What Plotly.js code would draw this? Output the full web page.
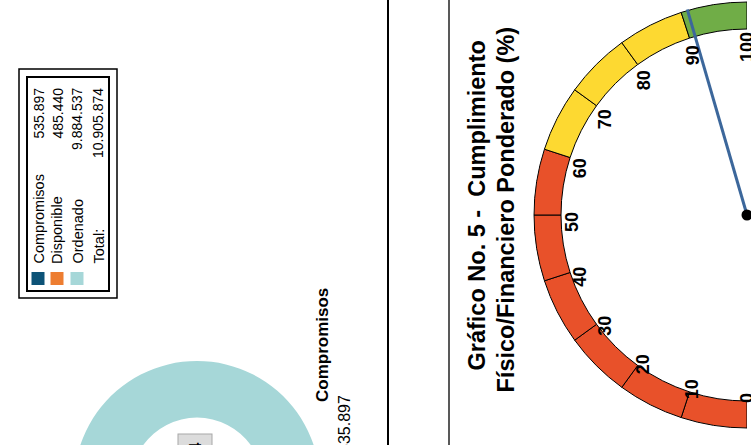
<!DOCTYPE html>
<html>
<head>
<meta charset="utf-8">
<script src="https://cdn.plot.ly/plotly-3.0.1.min.js"></script>
<style>
html,body{margin:0;padding:0;overflow:hidden;background:#fff;width:751px;height:445px;}
#chart{width:751px;height:640px;}
</style>
</head>
<body>
<div id="chart"></div>
<script>
// ---------- DATA ----------
// Donut (budget execution)
const categories = ['Compromisos', 'Disponible', 'Ordenado'];
const amounts = [535897, 485440, 9884537];
const sliceColors = ['#0D5377', '#ED7D31', '#A6D7D8'];
const totalLabel = 'Total:';

// Gauge (Gráfico No. 5)
const gaugeTitle = ['Gráfico No. 5 -\u00a0 Cumplimiento', 'Físico/Financiero Ponderado (%)'];
const bandStarts = [0, 10, 20, 30, 40, 50, 60, 70, 80, 90];
const bandColors = ['#E8512A', '#E8512A', '#E8512A', '#E8512A', '#E8512A', '#E8512A',
                    '#FDD931', '#FDD931', '#FDD931', '#70AD47'];
const gaugeTicks = [0, 10, 20, 30, 40, 50, 60, 70, 80, 90, 100];
const needleValue = 91;

// ---------- LAYOUT HELPERS ----------
const W = 751, H = 640;
const px = x => x / W;
const py = y => 1 - y / H;
const fmt = n => String(n).replace(/\B(?=(\d{3})+(?!\d))/g, '.');
const FONT = 'Liberation Sans, Arial, sans-serif';

// gauge geometry (pixels)
const gC = {x: 747, y: 215};
const rMax = 214, rIn = 186, rOut = 213;
const DEG_PER_UNIT = 180 / 100;

const traces = [];

// donut
const dC = {x: 197, y: 484}, dR = 123;
const small = amounts[0] + amounts[1];
const total = amounts.reduce((a, b) => a + b, 0);
traces.push({
  type: 'pie',
  labels: categories,
  values: amounts,
  sort: false,
  direction: 'clockwise',
  rotation: 180 - (small / total) * 180,
  hole: 0.54,
  marker: {colors: sliceColors, line: {width: 0}},
  textinfo: 'none',
  hoverinfo: 'none',
  domain: {x: [px(dC.x - dR), px(dC.x + dR)], y: [py(dC.y + dR), py(dC.y - dR)]},
  showlegend: false
});

// gauge bands
traces.push({
  type: 'barpolar',
  subplot: 'polar',
  theta: bandStarts.map(v => (v + 5) * DEG_PER_UNIT),
  r: bandStarts.map(() => rOut - rIn),
  base: bandStarts.map(() => rIn),
  width: bandStarts.map(() => 10 * DEG_PER_UNIT),
  marker: {color: bandColors, line: {color: '#000', width: 1}},
  hoverinfo: 'none',
  showlegend: false
});
// needle
traces.push({
  type: 'scatterpolar',
  subplot: 'polar',
  mode: 'lines',
  r: [0, 219],
  theta: [needleValue * DEG_PER_UNIT, needleValue * DEG_PER_UNIT],
  line: {color: '#3C679B', width: 3},
  cliponaxis: false,
  hoverinfo: 'none',
  showlegend: false
});
// hub
traces.push({
  type: 'scatterpolar',
  subplot: 'polar',
  mode: 'markers',
  r: [0],
  theta: [0],
  marker: {color: '#000', size: 11},
  cliponaxis: false,
  hoverinfo: 'none',
  showlegend: false
});

const annotations = [];
const shapes = [];

// gauge tick labels
gaugeTicks.forEach(v => {
  const a = v * DEG_PER_UNIT * Math.PI / 180;
  const x = gC.x - 175.5 * Math.sin(a);
  const y = gC.y + 175.5 * Math.cos(a) + 7.5;
  annotations.push({
    xref: 'paper', yref: 'paper', x: px(x), y: py(y),
    xanchor: 'center', yanchor: 'middle', showarrow: false,
    text: String(v), textangle: -90,
    font: {family: FONT, size: 18, color: '#000', weight: 'bold'}
  });
});

// gauge title (two lines)
const titleX = [477, 505.5], titleY = [205.5, 210];
gaugeTitle.forEach((t, i) => {
  annotations.push({
    xref: 'paper', yref: 'paper', x: px(titleX[i]), y: py(titleY[i]),
    xanchor: 'center', yanchor: 'middle', showarrow: false,
    text: t, textangle: -90,
    font: {family: FONT, size: 23.5, color: '#000', weight: 'bold'}
  });
});

// separator lines
shapes.push({type: 'line', xref: 'paper', yref: 'paper', x0: px(388), x1: px(388), y0: 0, y1: 1,
             line: {color: '#000', width: 2}});
shapes.push({type: 'line', xref: 'paper', yref: 'paper', x0: px(449), x1: px(449), y0: 0, y1: 1,
             line: {color: '#222', width: 1.5}});

// legend table (double border)
shapes.push({type: 'rect', xref: 'paper', yref: 'paper', x0: px(19), x1: px(117), y0: py(298), y1: py(69),
             line: {color: '#000', width: 1.5}, fillcolor: 'rgba(0,0,0,0)'});
shapes.push({type: 'rect', xref: 'paper', yref: 'paper', x0: px(27), x1: px(109), y0: py(291), y1: py(77),
             line: {color: '#000', width: 2}, fillcolor: 'rgba(0,0,0,0)'});

const rowX = [38, 57, 77, 98];
const rowLabels = categories.concat([totalLabel]);
const rowValues = amounts.concat([total]);
rowLabels.forEach((lab, i) => {
  annotations.push({
    xref: 'paper', yref: 'paper', x: px(rowX[i]), y: py(266),
    xanchor: 'center', yanchor: 'bottom', showarrow: false,
    text: lab, textangle: -90,
    font: {family: FONT, size: 14.5, color: '#000'}
  });
  annotations.push({
    xref: 'paper', yref: 'paper', x: px(rowX[i]), y: py(86),
    xanchor: 'center', yanchor: 'top', showarrow: false,
    text: fmt(rowValues[i]), textangle: -90,
    font: {family: FONT, size: 14, color: '#000'}
  });
  if (i < categories.length) {
    shapes.push({type: 'rect', xref: 'paper', yref: 'paper',
                 x0: px(rowX[i] - 6.5), x1: px(rowX[i] + 6.5), y0: py(285), y1: py(272),
                 line: {width: 0}, fillcolor: sliceColors[i]});
  }
});

// donut data label (outside)
annotations.push({
  xref: 'paper', yref: 'paper', x: px(322), y: py(404),
  xanchor: 'center', yanchor: 'bottom', showarrow: false,
  text: categories[0], textangle: -90,
  font: {family: FONT, size: 17, color: '#000', weight: 'bold'}
});
annotations.push({
  xref: 'paper', yref: 'paper', x: px(344), y: py(393),
  xanchor: 'center', yanchor: 'top', showarrow: false,
  text: fmt(amounts[0]), textangle: -90,
  font: {family: FONT, size: 16, color: '#000'}
});
// inner boxed label (partially visible)
annotations.push({
  xref: 'paper', yref: 'paper', x: px(195), y: py(434),
  xanchor: 'center', yanchor: 'top', showarrow: false,
  text: '4', textangle: -90,
  bgcolor: '#DCDCDC', bordercolor: '#A8A8A8', borderwidth: 1, borderpad: 8,
  font: {family: FONT, size: 16, color: '#000', weight: 'bold'}
});

const layout = {
  width: W, height: H,
  margin: {l: 0, r: 0, t: 0, b: 0, pad: 0},
  paper_bgcolor: '#FFFFFF',
  plot_bgcolor: '#FFFFFF',
  showlegend: false,
  polar: {
    domain: {x: [px(gC.x - rMax), px(gC.x)], y: [py(gC.y + rMax), py(gC.y - rMax)]},
    sector: [90, 270],
    bgcolor: 'rgba(0,0,0,0)',
    bargap: 0,
    radialaxis: {visible: false, range: [0, rMax]},
    angularaxis: {visible: false, rotation: 270, direction: 'clockwise'}
  },
  annotations: annotations,
  shapes: shapes
};

Plotly.newPlot('chart', traces, layout, {staticPlot: true, displayModeBar: false});
</script>
</body>
</html>
